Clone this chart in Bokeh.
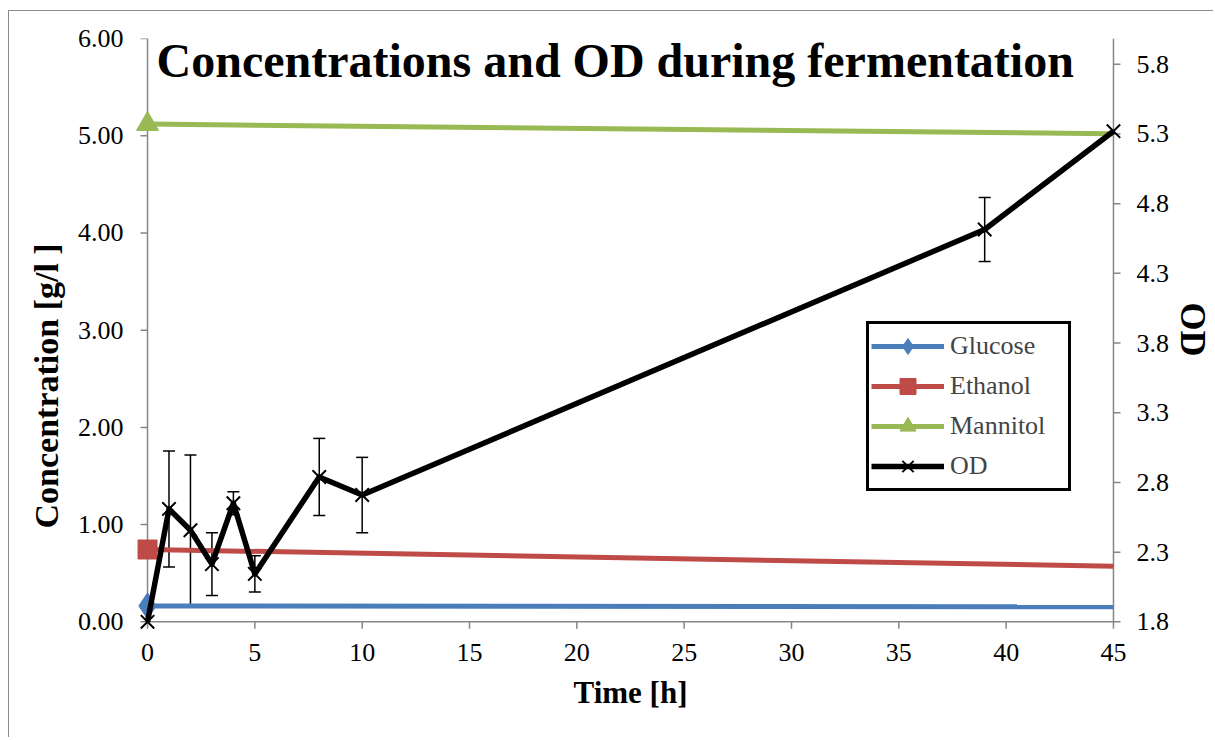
import math
from bokeh.plotting import figure
from bokeh.models import (Range1d, LinearAxis, FixedTicker, PrintfTickFormatter, Title,
                          ColumnDataSource, Whisker, TeeHead, Legend, LegendItem, Label)
from bokeh.embed import file_html
from bokeh.resources import INLINE

# ---- data ----
conc_time = [0, 45]
glucose = [0.164, 0.154]
ethanol = [0.744, 0.572]
mannitol = [5.12, 5.02]

od_time = [0, 1, 2, 3, 4, 5, 8, 10, 39, 45]
od = [1.80, 2.61, 2.457, 2.214, 2.651, 2.144, 2.839, 2.71, 4.615, 5.32]
od_err = [0.0, 0.416, 0.54, 0.225, 0.083, 0.13, 0.277, 0.27, 0.23, 0.0]

x_ticks = [0, 5, 10, 15, 20, 25, 30, 35, 40, 45]
left_ticks = [0, 1, 2, 3, 4, 5, 6]
right_ticks = [1.8, 2.3, 2.8, 3.3, 3.8, 4.3, 4.8, 5.3, 5.8]

title_text = "Concentrations and OD during fermentation"
x_title = "Time [h]"
y_title = "Concentration [g/l ]"
y2_title = "OD"

FONT_B = "Liberation Serif"
FONT_R = "Times"
AXIS_GRAY = "#868686"
BLUE, RED, GREEN = "#4A7EBB", "#BE4B48", "#98B954"

# axis extents (data); the frame gets a small pad so edge markers are not clipped
X0, X1 = 0, 45
Y0, Y1 = 0, 6
R0, R1 = 1.8, 5.985
pad_x, pad_y = 0.7, 0.12
r_scale = (R1 - R0) / (Y1 - Y0)

p = figure(width=1205, height=727, output_backend="svg", toolbar_location=None,
           x_range=Range1d(X0 - pad_x, X1 + pad_x), y_range=Range1d(Y0 - pad_y, Y1),
           min_border_left=123, min_border_right=79, min_border_top=27, min_border_bottom=105)
p.styles = {"border-left": "1px solid #8c8c8c", "border-top": "1px solid #8c8c8c",
            "margin-top": "10px", "margin-left": "8px"}
p.extra_y_ranges = {"od": Range1d(R0 - pad_y * r_scale, R1)}
p.outline_line_color = None
p.xgrid.visible = False
p.ygrid.visible = False
p.background_fill_color = "white"
p.border_fill_color = "white"

def style_axis(ax):
    # real axes only carry the tick labels; lines/ticks are drawn at the data extents below
    ax.axis_line_color = None
    ax.major_tick_line_color = None
    ax.major_tick_out = 0
    ax.major_tick_in = 0
    ax.minor_tick_line_color = None
    ax.major_label_text_font = FONT_R
    ax.major_label_text_font_size = "26px"
    ax.major_label_text_color = "black"
    ax.axis_label_text_font = FONT_B
    ax.axis_label_text_font_style = "bold"
    ax.axis_label_text_font_size = "31px"
    ax.axis_label_text_color = "black"

xa = p.xaxis[0]
style_axis(xa)
xa.ticker = FixedTicker(ticks=x_ticks)
xa.axis_label = x_title
xa.major_label_standoff = 10
xa.axis_label_standoff = 11

ya = p.yaxis[0]
style_axis(ya)
ya.ticker = FixedTicker(ticks=left_ticks)
ya.formatter = PrintfTickFormatter(format="%.2f")
ya.major_label_standoff = 9

ra = LinearAxis(y_range_name="od")
style_axis(ra)
ra.ticker = FixedTicker(ticks=right_ticks)
ra.formatter = PrintfTickFormatter(format="%.1f")
ra.major_label_standoff = 8
p.add_layout(ra, "right")

# axis lines and tick marks at the axis extents
AX = dict(line_color=AXIS_GRAY, line_width=1.5)
p.segment(x0=[X0, X0, X1], y0=[Y0, Y0, Y0], x1=[X0, X1, X1], y1=[Y1, Y0, Y1], **AX)
p.ray(x=[X0] * len(left_ticks), y=left_ticks, length=7, length_units="screen", angle=math.pi, **AX)
p.ray(x=x_ticks, y=[Y0] * len(x_ticks), length=7, length_units="screen", angle=-math.pi / 2, **AX)
p.ray(x=[X1] * len(right_ticks), y=right_ticks, length=7, length_units="screen", angle=0,
      y_range_name="od", **AX)

# error bars (only points that have an error value)
idx = [i for i, e in enumerate(od_err) if e > 0]
err_src = ColumnDataSource(dict(
    x=[od_time[i] for i in idx],
    upper=[od[i] + od_err[i] for i in idx],
    lower=[od[i] - od_err[i] for i in idx],
))
wh = Whisker(source=err_src, base="x", upper="upper", lower="lower", y_range_name="od",
             line_color="black", line_width=1.5,
             upper_head=TeeHead(size=12, line_width=1.5, line_color="black"),
             lower_head=TeeHead(size=12, line_width=1.5, line_color="black"))
p.add_layout(wh)

# concentration series
gl = p.line(conc_time, glucose, line_color=BLUE, line_width=5)
gm = p.scatter(conc_time[:1], glucose[:1], marker="diamond", size=26, fill_color=BLUE, line_color=BLUE)
el = p.line(conc_time, ethanol, line_color=RED, line_width=5)
em = p.scatter(conc_time[:1], ethanol[:1], marker="square", size=19, fill_color=RED, line_color=RED)
ml = p.line(conc_time, mannitol, line_color=GREEN, line_width=5)
mm = p.scatter(conc_time[:1], mannitol[:1], marker="triangle", size=22, fill_color=GREEN, line_color=GREEN)

# OD
ol = p.line(od_time, od, y_range_name="od", line_color="black", line_width=5.5, line_join="round")
om = p.scatter(od_time, od, y_range_name="od", marker="x", size=19, line_color="black", line_width=2)

legend = Legend(items=[
    LegendItem(label="Glucose", renderers=[gl, gm]),
    LegendItem(label="Ethanol", renderers=[el, em]),
    LegendItem(label="Mannitol", renderers=[ml, mm]),
    LegendItem(label="OD", renderers=[ol, om]),
], location=(734, 142))
legend.border_line_color = "black"
legend.border_line_alpha = 1
legend.border_line_width = 3
legend.background_fill_color = "white"
legend.background_fill_alpha = 1
legend.label_text_font = FONT_R
legend.label_text_font_size = "26px"
legend.glyph_width = 73
legend.glyph_height = 40
legend.spacing = 0
legend.padding = 2
legend.margin = 0
legend.label_standoff = 6
legend.label_width = 116
legend.label_height = 30
p.add_layout(legend, "center")

p.add_layout(Label(x=0.42, y=5.775, text=title_text, text_font=FONT_B, text_font_style="bold",
                   text_font_size="48px", text_color="black", text_baseline="alphabetic",
                   text_align="left"))

p.add_layout(Title(text=y_title, align="left", offset=105, standoff=20,
                   text_font=FONT_B, text_font_style="bold", text_font_size="34px",
                   text_color="black"), "left")
p.add_layout(Title(text=y2_title, align="left", offset=264, standoff=0,
                   text_font=FONT_B, text_font_style="bold", text_font_size="36px",
                   text_color="black"), "right")

open("out.html", "w").write(file_html(p, INLINE))
